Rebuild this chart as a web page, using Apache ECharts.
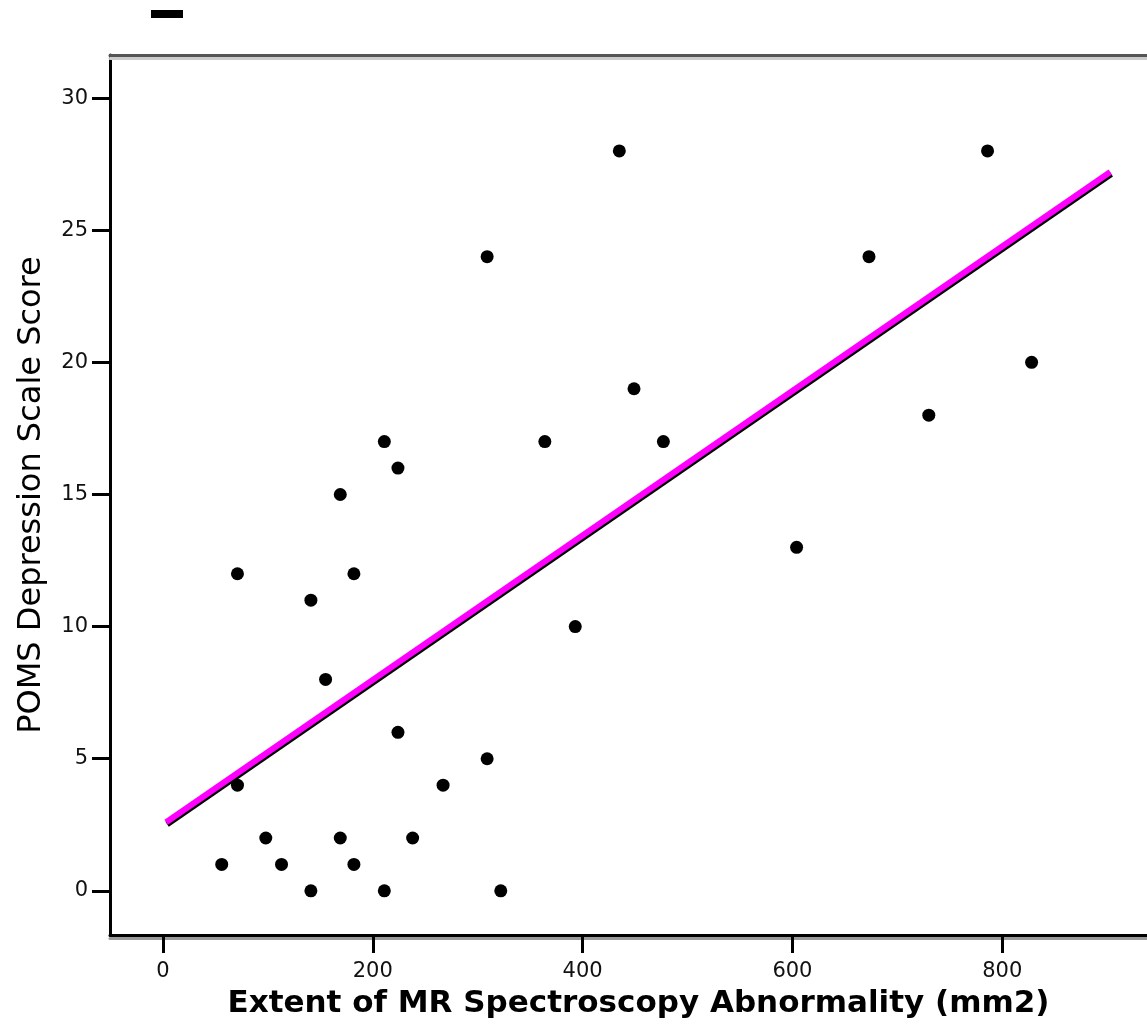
<!DOCTYPE html>
<html>
<head>
<meta charset="utf-8">
<script src="https://cdn.jsdelivr.net/npm/echarts@6/dist/echarts.min.js"></script>
<style>
  html, body { margin: 0; padding: 0; background: #fff; }
  #chart { width: 1147px; height: 1025px; }
</style>
</head>
<body>
<div id="chart"></div>
<script>
// scatter values
const extentMm2 = [56, 71, 71, 98, 113, 141, 141, 155, 169, 169, 182, 182, 211, 211, 224, 224, 238, 267, 309, 309, 322, 364, 393, 435, 449, 477, 604, 673, 730, 786, 828];
const pomsScore = [1, 12, 4, 2, 1, 11, 0, 8, 15, 2, 12, 1, 17, 0, 16, 6, 2, 4, 24, 5, 0, 17, 10, 28, 19, 17, 13, 24, 18, 28, 20];

// fit line end points as drawn
const fitX = [3, 903];
const fitY = [2.6, 27.2];

const xTicks = [0, 200, 400, 600, 800];
const yTicks = [0, 5, 10, 15, 20, 25, 30];

const chart = echarts.init(document.getElementById('chart'));

chart.setOption({
  animation: false,
  backgroundColor: '#fff',
  textStyle: { fontFamily: 'DejaVu Sans' },
  grid: { left: 110, top: 55, right: 0, bottom: 90 },
  graphic: [
    { type: 'rect', shape: { x: 151, y: 10, width: 32, height: 8 }, style: { fill: '#000' } }
  ],
  xAxis: [
    {
      type: 'value',
      min: -50.5,
      max: 938,
      name: 'Extent of MR Spectroscopy Abnormality (mm2)',
      nameLocation: 'middle',
      nameGap: 53,
      nameTextStyle: { fontSize: 31, fontWeight: 'bold', color: '#000', padding: [0, 0, 0, 20] },
      axisLine: { show: true, onZero: false, lineStyle: { color: '#000', width: 3, shadowColor: '#999', shadowOffsetY: 3, shadowBlur: 0 } },
      axisTick: { show: true, length: 18, lineStyle: { color: '#000', width: 3 }, customValues: xTicks },
      axisLabel: { fontSize: 21, color: '#111', margin: 26, customValues: xTicks },
      splitLine: { show: false }
    },
    {
      type: 'value',
      position: 'top',
      min: -50.5,
      max: 938,
      axisLine: { show: true, onZero: false, lineStyle: { color: '#555', width: 3, shadowColor: '#ccc', shadowOffsetY: 3, shadowBlur: 0 } },
      axisTick: { show: false },
      axisLabel: { show: false },
      splitLine: { show: false }
    }
  ],
  yAxis: {
    type: 'value',
    min: -1.67,
    max: 31.63,
    name: 'POMS Depression Scale Score',
    nameLocation: 'middle',
    nameGap: 62,
    nameTextStyle: { fontSize: 32, color: '#000' },
    axisLine: { show: true, onZero: false, lineStyle: { color: '#000', width: 3 } },
    axisTick: { show: true, length: 18, lineStyle: { color: '#000', width: 3 }, customValues: yTicks },
    axisLabel: { fontSize: 21, color: '#111', margin: 22, customValues: yTicks },
    splitLine: { show: false }
  },
  series: [
    {
      type: 'line',
      data: fitX.map((x, i) => [x, fitY[i]]),
      symbol: 'none',
      lineStyle: { color: '#ff00ff', width: 6, shadowColor: '#000', shadowOffsetX: 1, shadowOffsetY: 2, shadowBlur: 0 },
      z: 2
    },
    {
      type: 'scatter',
      data: extentMm2.map((x, i) => [x, pomsScore[i]]),
      symbol: 'circle',
      symbolSize: 13,
      itemStyle: { color: '#000', opacity: 1 },
      z: 3
    }
  ]
});
</script>
</body>
</html>
